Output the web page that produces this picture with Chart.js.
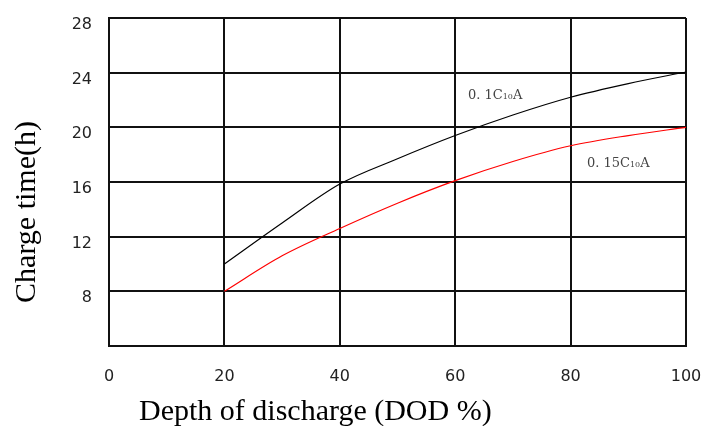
<!DOCTYPE html>
<html>
<head>
<meta charset="utf-8">
<script src="https://cdn.jsdelivr.net/npm/chart.js@4.4.0/dist/chart.umd.min.js"></script>
<style>
  html, body { margin: 0; padding: 0; background: #fff; }
  #wrap { width: 705px; height: 426px; }
</style>
</head>
<body>
<div id="wrap"><canvas id="chart" width="705" height="426"></canvas></div>
<script>
// depth of discharge (%) sampled along the curves
const dod = [20, 30, 40, 50, 60, 70, 80, 90, 100];
// charge time (h) at 0.1C10A
const time01 = [10.0, 13.0, 15.85, 17.7, 19.4, 20.9, 22.2, 23.2, 24.05];
// charge time (h) at 0.15C10A
const time015 = [8.0, 10.6, 12.6, 14.45, 16.1, 17.5, 18.65, 19.4, 20.0];

const xTicks = [0, 20, 40, 60, 80, 100];
const yTicks = [4, 8, 12, 16, 20, 24, 28];

const toPoints = (xs, ys) => xs.map((x, i) => ({ x: x, y: ys[i] }));

const tickFont = { family: 'DejaVu Sans', size: 16 };
const gridColor = '#111';

// axis titles and curve labels drawn on top of the canvas
const textPlugin = {
    id: 'chartText',
    afterDraw(chart) {
        const ctx = chart.ctx;
        ctx.save();
        ctx.fillStyle = '#000';
        ctx.font = '30px "Liberation Serif"';
        ctx.textBaseline = 'alphabetic';
        ctx.textAlign = 'left';
        ctx.fillText('Depth of discharge (DOD %)', 139, 420);

        ctx.translate(35, 212);
        ctx.rotate(-Math.PI / 2);
        ctx.textAlign = 'center';
        ctx.fillText('Charge time(h)', 0, 0);
        ctx.restore();

        drawCurveLabel(ctx, '0. 1C', 'A', 468, 99);
        drawCurveLabel(ctx, '0. 15C', 'A', 587, 167);
    }
};

function drawCurveLabel(ctx, head, tail, x, y) {
    ctx.save();
    ctx.fillStyle = '#444';
    ctx.textBaseline = 'alphabetic';
    ctx.textAlign = 'left';
    ctx.font = '13px "DejaVu Serif"';
    ctx.fillText(head, x, y);
    let w = ctx.measureText(head).width;
    ctx.font = '8px "DejaVu Serif"';
    ctx.fillText('10', x + w, y);
    w += ctx.measureText('10').width;
    ctx.font = '13px "DejaVu Serif"';
    ctx.fillText(tail, x + w, y);
    ctx.restore();
}

new Chart(document.getElementById('chart'), {
    type: 'line',
    data: {
        datasets: [
            {
                label: '0.1C10A',
                data: toPoints(dod, time01),
                borderColor: '#000',
                borderWidth: 1.2,
                pointRadius: 0,
                cubicInterpolationMode: 'monotone',
                fill: false
            },
            {
                label: '0.15C10A',
                data: toPoints(dod, time015),
                borderColor: '#ff0000',
                borderWidth: 1.2,
                pointRadius: 0,
                cubicInterpolationMode: 'monotone',
                fill: false
            }
        ]
    },
    options: {
        responsive: false,
        animation: false,
        layout: { padding: { left: 0, right: 19, top: 18, bottom: 0 } },
        plugins: {
            legend: { display: false },
            tooltip: { enabled: false }
        },
        scales: {
            x: {
                type: 'linear',
                min: 0,
                max: 100,
                afterBuildTicks: scale => { scale.ticks = xTicks.map(v => ({ value: v })); },
                afterFit: scale => {
                    scale.height = 80;
                    scale.paddingLeft = 0;
                    scale.paddingRight = 0;
                },
                grid: { color: gridColor, lineWidth: 2, drawTicks: false, tickLength: 0 },
                border: { color: gridColor, width: 2 },
                ticks: { font: tickFont, color: '#222', padding: 21, maxRotation: 0 }
            },
            y: {
                type: 'linear',
                min: 4,
                max: 28,
                afterBuildTicks: scale => { scale.ticks = yTicks.map(v => ({ value: v })); },
                afterFit: scale => {
                    scale.width = 109;
                    scale.paddingTop = 0;
                    scale.paddingBottom = 0;
                },
                grid: { color: gridColor, lineWidth: 2, drawTicks: false, tickLength: 0 },
                border: { color: gridColor, width: 2 },
                ticks: {
                    font: tickFont,
                    color: '#222',
                    padding: 17,
                    labelOffset: 7,
                    callback: v => (v === 4 ? '' : String(v))
                }
            }
        }
    },
    plugins: [textPlugin]
});
</script>
</body>
</html>
